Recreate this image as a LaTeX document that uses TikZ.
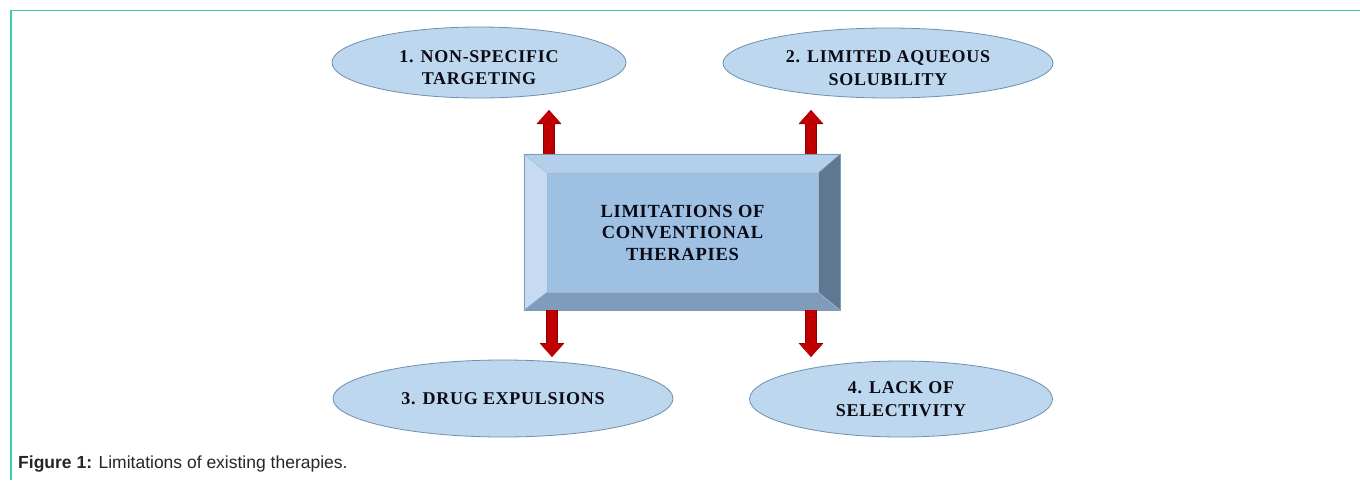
\documentclass[tikz,border=0pt]{standalone}
\usepackage{fontspec}
\setmainfont{Liberation Serif}
\newfontfamily\diafont[LetterSpace=4]{Liberation Serif}
\newfontfamily\capfont{Liberation Sans}
\usetikzlibrary{arrows.meta,shapes.geometric,calc}
\definecolor{ellfill}{HTML}{BDD7EE}
\definecolor{elldraw}{HTML}{6F8FAF}
\definecolor{framecol}{HTML}{3EC9B2}
\definecolor{facecol}{HTML}{9DC0E3}
\definecolor{bevtop}{HTML}{B3CFEB}
\definecolor{bevleft}{HTML}{C6DBF1}
\definecolor{bevright}{HTML}{5F7892}
\definecolor{bevbot}{HTML}{7F9DBA}
\definecolor{boxline}{HTML}{7F9AB5}
\definecolor{arrred}{HTML}{C00000}
\definecolor{arrdark}{HTML}{8E0000}
\definecolor{txt}{HTML}{0A0A14}
\tikzset{
  ell/.style={ellipse, draw=elldraw, line width=0.8pt, fill=ellfill, inner sep=0pt},
  elltext/.style={align=center, text=txt, inner sep=0pt,
    font=\diafont\bfseries\fontsize{18}{22.5}\selectfont},
  bigarrow/.style={line width=10pt, draw=arrred, -{Triangle[width=22pt,length=13pt]},
    preaction={draw=arrdark, line width=11.5pt, -{Triangle[width=24pt,length=14pt]}}},
  framestyle/.style={draw=framecol, line width=1.5pt},
}
\begin{document}
\begin{tikzpicture}[x=1pt,y=-1pt]
\useasboundingbox (0,0) rectangle (1360,480);
\fill[white] (0,0) rectangle (1360,480);
\draw[framestyle] (1360,10.5) -- (11,10.5) -- (11,480);

% ellipses
\node[ell, minimum width=294pt, minimum height=71pt] (e1) at (479,62.5) {};
\node[elltext] (e1t) at ($(e1.center)+(0,5)$) {1. NON-SPECIFIC\\TARGETING};
\node[ell, minimum width=330pt, minimum height=70pt] (e2) at (888,63) {};
\node[elltext] (e2t) at ($(e2.center)+(0,5)$) {2. LIMITED AQUEOUS\\SOLUBILITY};
\node[ell, minimum width=340pt, minimum height=77pt] (e3) at (503,398.5) {};
\node[elltext] (e3t) at (e3.center) {3. DRUG EXPULSIONS};
\node[ell, minimum width=303pt, minimum height=76pt] (e4) at (901,399) {};
\node[elltext] (e4t) at (e4.center) {4. LACK OF\\SELECTIVITY};

% central bevelled box
\node[fill=facecol, minimum width=316pt, minimum height=156pt, inner sep=0pt] (box) at (682,232) {};
\node[fill=facecol, minimum width=271pt, minimum height=119pt, inner sep=0pt, align=center,
      text=txt, font=\diafont\bfseries\fontsize{18.5}{21.5}\selectfont] (face) at (682.5,232.5)
      {LIMITATIONS OF\\CONVENTIONAL\\THERAPIES};
\fill[bevtop] (box.north west) -- (box.north east) -- (face.north east) -- (face.north west) -- cycle;
\fill[bevleft] (box.north west) -- (face.north west) -- (face.south west) -- (box.south west) -- cycle;
\fill[bevright] (box.north east) -- (box.south east) -- (face.south east) -- (face.north east) -- cycle;
\fill[bevbot] (box.south west) -- (box.south east) -- (face.south east) -- (face.south west) -- cycle;
\draw[boxline, line width=0.6pt] (box.north west) rectangle (box.south east);
\draw[boxline!70, line width=0.5pt] (face.north west) rectangle (face.south east);
\draw[boxline!70, line width=0.5pt] (box.north west) -- (face.north west) (box.north east) -- (face.north east)
  (box.south west) -- (face.south west) (box.south east) -- (face.south east);

% arrows
\coordinate (t1) at (549,110);
\coordinate (t2) at (811,110);
\coordinate (t3) at (552,357);
\coordinate (t4) at (811,357);
\draw[bigarrow] (box.north -| t1) -- (t1);
\draw[bigarrow] (box.north -| t2) -- (t2);
\draw[bigarrow] (box.south -| t3) -- (t3);
\draw[bigarrow] (box.south -| t4) -- (t4);

% caption
\node[anchor=base west, inner sep=0pt, text=black!85, font=\capfont\fontsize{17.5}{20}\selectfont] (cap) at (18,468)
  {\textbf{Figure 1:} Limitations of existing therapies.};
\end{tikzpicture}
\end{document}
